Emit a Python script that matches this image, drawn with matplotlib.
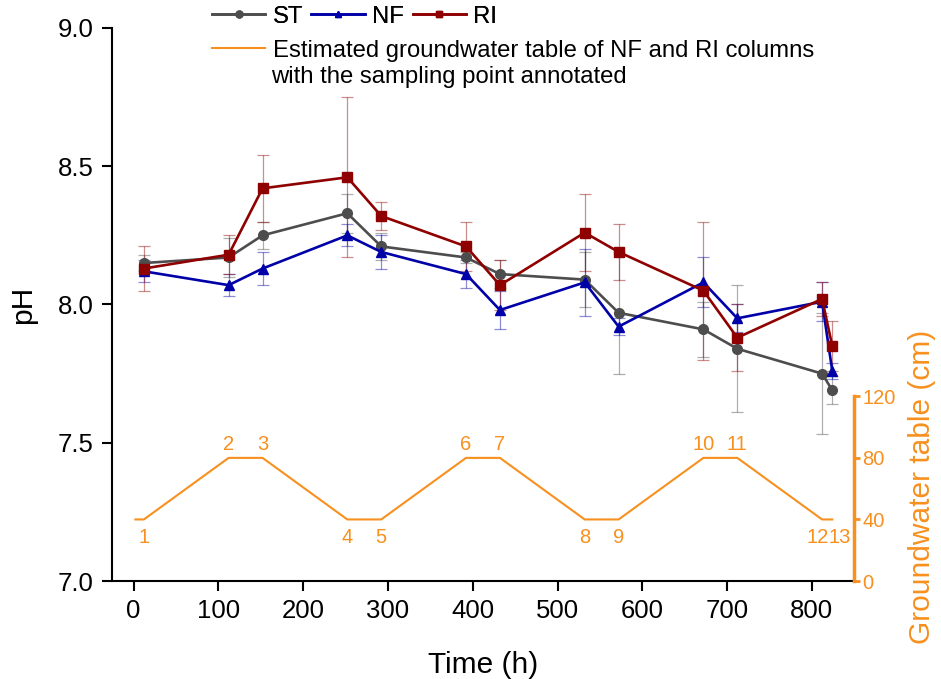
import matplotlib
matplotlib.use('Agg')
import matplotlib.pyplot as plt
from matplotlib.lines import Line2D

plt.rcParams['font.family'] = ['Liberation Sans', 'DejaVu Sans']

# --- data ---
time_h = [12, 112, 152, 252, 292, 392, 432, 532, 572, 672, 712, 812, 824]

st_ph = [8.15, 8.17, 8.25, 8.33, 8.21, 8.17, 8.11, 8.09, 7.97, 7.91, 7.84, 7.75, 7.69]
st_err = [0.03, 0.07, 0.05, 0.07, 0.05, 0.02, 0.05, 0.10, 0.22, 0.10, 0.23, 0.22, 0.05]

nf_ph = [8.12, 8.07, 8.13, 8.25, 8.19, 8.11, 7.98, 8.08, 7.92, 8.08, 7.95, 8.01, 7.76]
nf_err = [0.04, 0.04, 0.06, 0.04, 0.06, 0.05, 0.07, 0.12, 0.03, 0.09, 0.05, 0.07, 0.03]

ri_ph = [8.13, 8.18, 8.42, 8.46, 8.32, 8.21, 8.07, 8.26, 8.19, 8.05, 7.88, 8.02, 7.85]
ri_err = [0.08, 0.07, 0.12, 0.29, 0.05, 0.09, 0.09, 0.14, 0.10, 0.25, 0.12, 0.06, 0.09]

# estimated groundwater table (cm), line starts slightly before point 1
gw_time = [2, 12, 112, 152, 252, 292, 392, 432, 532, 572, 672, 712, 812, 824]
gw_cm = [40, 40, 80, 80, 40, 40, 80, 80, 40, 40, 80, 80, 40, 40]
sample_id = ['1', '2', '3', '4', '5', '6', '7', '8', '9', '10', '11', '12', '13']

# --- styles ---
c_st = '#4d4d4d'
c_nf = '#0000a8'
c_ri = '#8f0000'
c_gw = '#f7901e'

fig = plt.figure(figsize=(9.41, 6.79), dpi=100)
ax = fig.add_axes([0.119, 0.1443, 0.7885, 0.8145])

series = [
    (st_ph, st_err, c_st, 'o', 7, 'ST'),
    (nf_ph, nf_err, c_nf, '^', 7, 'NF'),
    (ri_ph, ri_err, c_ri, 's', 6.5, 'RI'),
]
for vals, errs, col, mk, ms, lab in series:
    ax.errorbar(time_h, vals, yerr=errs, color=col, marker=mk, markersize=ms,
                linewidth=1.9, ecolor=col, elinewidth=0.9, capsize=4.5,
                capthick=0.9, label=lab, zorder=3)

# fade error bars
for coll in ax.collections:
    coll.set_alpha(0.45)
for ln in ax.lines:
    if ln.get_marker() == '_':
        ln.set_alpha(0.45)

ax.set_xlim(-25.6, 849.6)
ax.set_ylim(7.0, 9.0)
ax.set_xticks(range(0, 801, 100))
ax.set_yticks([7.0, 7.5, 8.0, 8.5, 9.0])
ax.set_yticklabels(['7.0', '7.5', '8.0', '8.5', '9.0'])
for s in ['top', 'right']:
    ax.spines[s].set_visible(False)
for s in ['left', 'bottom']:
    ax.spines[s].set_linewidth(1.5)
ax.tick_params(axis='both', direction='out', length=7, width=1.5,
               labelsize=18.5, pad=6)
ax.set_xlabel('Time (h)', fontsize=21.5, labelpad=20)
ax.set_ylabel('pH', fontsize=21.5, labelpad=15)

# --- groundwater axis ---
ax2 = ax.twinx()
ax2.set_ylim(0, 359.3)
ax2.plot(gw_time, gw_cm, color=c_gw, linewidth=1.5)
for i, (t, lab) in enumerate(zip(time_h, sample_id)):
    level = gw_cm[i + 1]
    off = 3 if level == 80 else -6
    va = 'bottom' if level == 80 else 'top'
    dx = 0
    if lab == '12':
        dx = -3
    if lab == '13':
        dx = 5
    ax2.annotate(lab, (t, level), xytext=(dx, off), textcoords='offset points',
                 ha='center', va=va, color=c_gw, fontsize=14.5)

for s in ['top', 'left', 'bottom']:
    ax2.spines[s].set_visible(False)
ax2.spines['right'].set_bounds(0, 120)
ax2.spines['right'].set_color(c_gw)
ax2.spines['right'].set_linewidth(2.5)
ax2.set_yticks([0, 40, 80, 120])
ax2.tick_params(axis='y', colors=c_gw, direction='out', length=4, width=2,
                labelsize=14.5, pad=2)
fig.text(922 / 941, 1 - 487 / 679, 'Groundwater table (cm)', rotation=90,
         ha='center', va='center', color=c_gw, fontsize=21.5)

# --- legends ---
h_st = Line2D([], [], color=c_st, marker='o', markersize=5, linewidth=1.9)
h_nf = Line2D([], [], color=c_nf, marker='^', markersize=5, linewidth=1.9)
h_ri = Line2D([], [], color=c_ri, marker='s', markersize=4.5, linewidth=1.9)
leg1 = fig.legend([h_st, h_nf, h_ri], ['ST', 'NF', 'RI'], ncol=3,
                  loc='upper left', bbox_to_anchor=(195 / 941, 1.016),
                  frameon=False, fontsize=17.2, handlelength=2.25,
                  handletextpad=0.3, columnspacing=0.35, borderpad=0.2)
h_gw = Line2D([], [], color=c_gw, linewidth=1.5)
leg2 = fig.legend([h_gw], ['Estimated groundwater table of NF and RI columns'],
                  loc='upper left', bbox_to_anchor=(195 / 941, 1 - 23 / 679),
                  frameon=False, fontsize=17.2, handlelength=2.25,
                  handletextpad=0.3, borderpad=0.2)
fig.add_artist(leg1)
fig.text(271 / 941, 1 - 77 / 679, 'with the sampling point annotated',
         ha='left', va='center', fontsize=17.2)

fig.savefig('out.png', dpi=100)
